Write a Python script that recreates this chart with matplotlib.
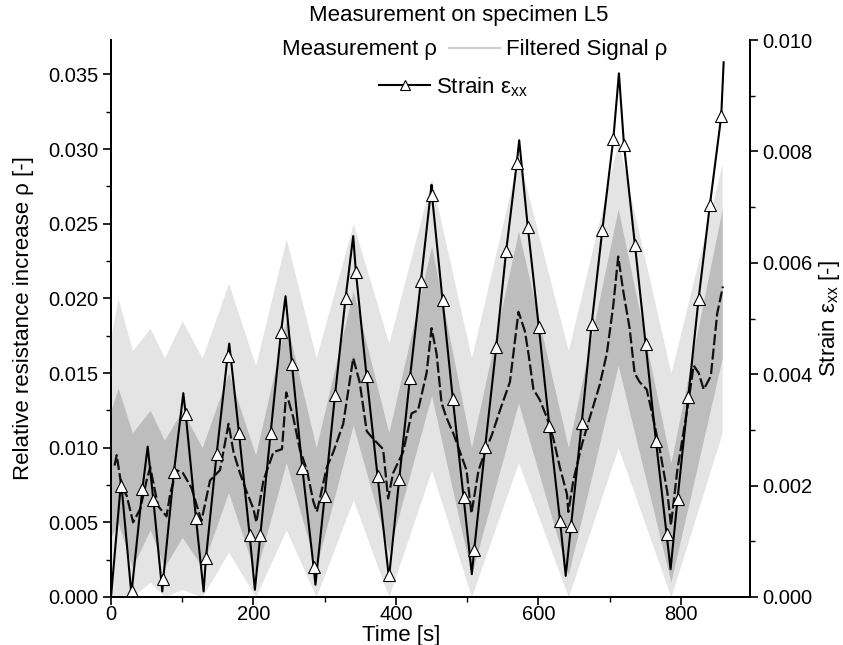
import matplotlib
matplotlib.use('Agg')
import matplotlib.pyplot as plt
from matplotlib.lines import Line2D
from matplotlib.ticker import MultipleLocator, FormatStrFormatter

plt.rcParams['font.family'] = ['Liberation Sans', 'DejaVu Sans']
plt.rcParams['mathtext.fontset'] = 'custom'
plt.rcParams['mathtext.rm'] = 'Liberation Sans'
plt.rcParams['mathtext.it'] = 'Liberation Sans:italic'

# Dehnung (rechte Achse): Umkehrpunkte des Dreieckssignals
strain_vertex_t = [0, 14, 29, 51.5, 72, 101.5, 130, 166, 202, 245, 287, 340, 390,
                   450, 506.5, 573, 638.3, 713, 785.5, 860]
strain_vertex = [0, 0.0021, 0.0, 0.0027, 0.0001, 0.00366, 0.0001, 0.00455, 0.00013,
                 0.0054, 0.00022, 0.00648, 0.00032, 0.0074, 0.00041, 0.0082, 0.00038,
                 0.0094, 0.0005, 0.0096]

# Dehnung: Punkte mit Dreiecksmarkern
marker_t = [13.6, 29.0, 44.0, 59.4, 73.4, 88.4, 104.8, 119.3, 133.3, 148.3, 163.7, 179.6,
            194.6, 209.6, 224.1, 238.6, 254.0, 268.5, 284.4, 299.9, 314.4, 329.3, 343.8,
            358.8, 374.2, 389.7, 404.6, 419.6, 435.0, 450.5, 465.4, 479.9, 494.9, 509.8,
            525.2, 540.7, 554.7, 569.6, 585.0, 600.5, 615.4, 630.4, 645.8, 660.7, 674.8,
            689.7, 705.1, 720.1, 735.5, 750.5, 765.0, 779.9, 795.3, 810.3, 824.8, 840.7,
            856.6]
marker_strain = [0.0020, 0.0001, 0.00193, 0.00175, 0.00033, 0.00225, 0.00329, 0.00141,
                 0.0007, 0.00257, 0.00433, 0.00295, 0.00111, 0.00111, 0.00295, 0.00475,
                 0.00418, 0.00232, 0.00054, 0.00181, 0.00362, 0.00537, 0.00583, 0.00396,
                 0.00217, 0.0004, 0.00212, 0.00393, 0.00567, 0.00722, 0.00533, 0.00355,
                 0.00179, 0.00084, 0.00269, 0.00448, 0.00621, 0.00779, 0.00665, 0.00485,
                 0.00307, 0.00136, 0.00128, 0.00312, 0.00491, 0.00659, 0.00822, 0.00812,
                 0.00632, 0.00454, 0.0028, 0.00113, 0.00176, 0.00359, 0.00535, 0.00704,
                 0.00863]

# gefiltertes Widerstandssignal (linke Achse)
filt_t = [5, 8, 15, 22, 31, 41, 50, 55, 66, 78, 83, 92, 101, 113, 127, 139, 153, 165, 172,
          181, 190, 200, 204, 214, 228, 240, 246, 256, 265, 275, 284, 289, 303, 312, 326,
          340, 349, 359, 368, 382, 389, 396, 410, 422, 431, 443, 450, 457, 464, 471, 481,
          490, 499, 506, 516, 525, 535, 546, 560, 572, 581, 586, 593, 602, 612, 621, 630,
          640, 642, 649, 661, 672, 686, 696, 705, 712, 719, 728, 735, 742, 752, 761, 771,
          781, 786, 795, 809, 818, 825, 832, 842, 851, 859]
filt_rho = [0.0088, 0.0095, 0.0073, 0.0068, 0.0050, 0.0059, 0.0078, 0.0087, 0.0061, 0.0054,
            0.0069, 0.0085, 0.0083, 0.0073, 0.0051, 0.0078, 0.0085, 0.0116, 0.0097, 0.0083,
            0.0071, 0.0059, 0.0050, 0.0078, 0.0097, 0.0099, 0.0137, 0.0120, 0.0099, 0.0085,
            0.0064, 0.0057, 0.0087, 0.0097, 0.0116, 0.0160, 0.0144, 0.0111, 0.0106, 0.0099,
            0.0066, 0.0083, 0.0097, 0.0123, 0.0125, 0.0150, 0.0180, 0.0163, 0.0130, 0.0120,
            0.0109, 0.0097, 0.0085, 0.0056, 0.0085, 0.0097, 0.0109, 0.0125, 0.0144, 0.0191,
            0.0178, 0.0163, 0.0139, 0.0132, 0.0120, 0.0106, 0.0087, 0.0069, 0.0057, 0.0078,
            0.0102, 0.0120, 0.0142, 0.0163, 0.0195, 0.0228, 0.0205, 0.0180, 0.0150, 0.0144,
            0.0139, 0.0120, 0.0097, 0.0070, 0.0048, 0.0085, 0.0126, 0.0155, 0.0150, 0.0139,
            0.0148, 0.0190, 0.0208]

# Messsignal: Kernband und Ausreißer-Hülle
band_t = [0, 10, 30, 55, 75, 100, 128, 165, 203, 246, 288, 340, 390, 450, 506, 572, 642,
          712, 786, 858]
core_hi = [0.0125, 0.0140, 0.0110, 0.0125, 0.0105, 0.0125, 0.0100, 0.0150, 0.0095, 0.0185,
           0.0100, 0.0205, 0.0110, 0.0235, 0.0100, 0.0245, 0.0100, 0.0260, 0.0090, 0.0260]
core_lo = [0.0040, 0.0050, 0.0020, 0.0045, 0.0020, 0.0040, 0.0020, 0.0070, 0.0015, 0.0090,
           0.0020, 0.0115, 0.0030, 0.0135, 0.0015, 0.0130, 0.0015, 0.0155, 0.0010, 0.0160]
spike_hi = [0.0175, 0.0200, 0.0165, 0.0180, 0.0160, 0.0185, 0.0160, 0.0210, 0.0155, 0.0240,
            0.0160, 0.0250, 0.0170, 0.0280, 0.0160, 0.0295, 0.0165, 0.0305, 0.0150, 0.0290]
spike_lo = [0.0, 0.0, 0.0, 0.0010, 0.0, 0.0005, 0.0, 0.0030, 0.0, 0.0045, 0.0, 0.0065, 0.0,
            0.0085, 0.0, 0.0090, 0.0, 0.0100, 0.0, 0.0110]

# Linie der Dehnung läuft durch Umkehrpunkte und Markerpunkte
line_pts = sorted(zip(strain_vertex_t + marker_t, strain_vertex + marker_strain))
line_t = [p[0] for p in line_pts]
line_s = [p[1] for p in line_pts]

fig = plt.figure(figsize=(8.43, 6.45), dpi=100)
ax = fig.add_axes([111 / 843, 1 - 597 / 645, 639 / 843, 557 / 645])
ax2 = ax.twinx()

ax.fill_between(band_t, spike_lo, spike_hi, color='#e4e4e4', lw=0)
ax.fill_between(band_t, core_lo, core_hi, color='#bdbdbd', lw=0)
ax.plot(filt_t, filt_rho, color='#111111', lw=1.6, ls=(0, (5, 1.5)))

ax2.plot(line_t, line_s, color='black', lw=1.5)
ax2.plot(marker_t, marker_strain, ls='none', marker='^', ms=8, mfc='white',
         mec='black', mew=0.8)

ax.set_xlim(0, 897)
ax.set_ylim(0, 0.0373)
ax2.set_ylim(0, 0.010)

ax.xaxis.set_major_locator(MultipleLocator(200))
ax.xaxis.set_minor_locator(MultipleLocator(100))
ax.yaxis.set_major_locator(MultipleLocator(0.005))
ax.yaxis.set_minor_locator(MultipleLocator(0.0025))
ax2.yaxis.set_major_locator(MultipleLocator(0.002))
ax2.yaxis.set_minor_locator(MultipleLocator(0.001))
ax.yaxis.set_major_formatter(FormatStrFormatter('%.3f'))
ax2.yaxis.set_major_formatter(FormatStrFormatter('%.3f'))

for a in (ax, ax2):
    a.spines['top'].set_visible(False)
    for sp in a.spines.values():
        sp.set_linewidth(1.3)
    a.tick_params(which='major', direction='out', length=6, width=1.2, labelsize=14.5, pad=3)
    a.tick_params(which='minor', direction='out', length=3.5, width=1.0)
ax.tick_params(axis='x', which='major', length=5.5, pad=0.5)

ax.set_xlabel('Time [s]', fontsize=16, va='center')
ax.xaxis.set_label_coords((401 - 111) / 639, (597 - 636) / 557)
ax.set_ylabel('Relative resistance increase ρ [-]', fontsize=16, labelpad=10)
ax2.set_ylabel('Strain ε$_{\\mathrm{xx}}$ [-]', fontsize=16, labelpad=3)

fig.text(459 / 843, 1 - 16 / 645, 'Measurement on specimen L5', ha='center', va='center',
         fontsize=16)

h_meas = Line2D([], [], color='none')
h_filt = Line2D([], [], color='#cfcfcf', lw=1.5)
h_strain = Line2D([], [], color='black', lw=1.5, marker='^', ms=7, mfc='white',
                  mec='black', mew=0.8)
fig.legend(handles=[h_meas, h_filt], labels=['Measurement ρ', 'Filtered Signal ρ'],
           ncol=2, loc='center', bbox_to_anchor=(446.5 / 843, 1 - 50 / 645),
           frameon=False, fontsize=16, handlelength=2.3, handletextpad=0.27,
           columnspacing=0.54, borderpad=0, borderaxespad=0)
fig.legend(handles=[h_strain], labels=['Strain ε$_{\\mathrm{xx}}$'], loc='center',
           bbox_to_anchor=(453.5 / 843, 1 - 87 / 645), frameon=False, fontsize=16,
           handlelength=2.3, handletextpad=0.27, borderpad=0, borderaxespad=0)

fig.savefig('out.png', dpi=100)
